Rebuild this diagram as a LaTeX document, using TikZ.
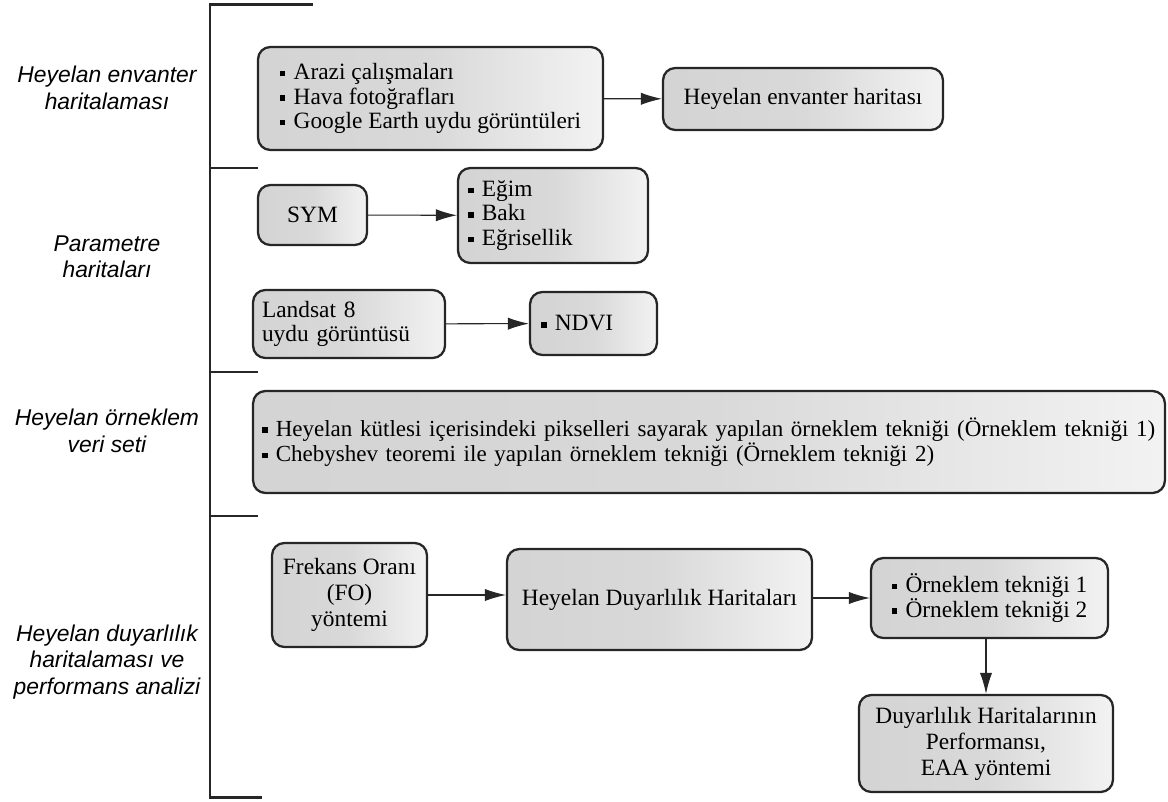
\documentclass[tikz,border=0pt]{standalone}
\usepackage{fontspec}
\setmainfont{Liberation Serif}
\newfontfamily\sidefont{Liberation Sans}
\usetikzlibrary{arrows.meta}

\newcommand{\blt}{\raisebox{0.3ex}{\rule{3.2pt}{3.2pt}}\hspace{0.35em}}

\begin{document}
\begin{tikzpicture}
	\tikzstyle{flowbox} = [draw=black!85, line width=1.3pt, rounded corners=7pt, left color=black!17, right color=black!5, middle color=black!15, font=\fontsize{13.3}{14}\selectfont, inner sep=0pt, align=center]
	\tikzstyle{listbox} = [flowbox, align=left, inner ysep=0pt]
	\tikzstyle{sidelabel} = [font=\sidefont\itshape\fontsize{13}{15}\selectfont, align=center]
	\tikzstyle{flowedge} = [-{Latex[length=12pt,width=7pt]}, line width=0.6pt, black!85]
	\tikzstyle{bracket} = [line width=1.7pt, black!85]

	\def\incx{0.02}
	\def\incy{-0.02}

	\useasboundingbox (0,0) rectangle (1168*\incx,802*\incy);

	% BRACKET %
	\coordinate (b0) at (210*\incx,5*\incy);
	\coordinate (b1) at (210*\incx,168*\incy);
	\coordinate (b2) at (210*\incx,372*\incy);
	\coordinate (b3) at (210*\incx,516*\incy);
	\coordinate (b4) at (210*\incx,797*\incy);
	\draw[bracket] (313*\incx,5*\incy) -- (b0) -- (b4) -- (262*\incx,797*\incy);
	\draw[bracket] (b1) -- ++(48*\incx,0);
	\draw[bracket] (b2) -- ++(48*\incx,0);
	\draw[bracket] (b3) -- ++(48*\incx,0);

	% LABELS %
	\node[sidelabel] (lenv) at (107*\incx,88*\incy) {Heyelan envanter\\haritalaması};
	\node[sidelabel] (lpar) at (107*\incx,257*\incy) {Parametre\\haritaları};
	\node[sidelabel] (lorn) at (107*\incx,431*\incy) {Heyelan örneklem\\veri seti};
	\node[sidelabel] (lduy) at (107*\incx,662*\incy) {Heyelan duyarlılık\\haritalaması ve\\performans analizi};

	% NODES %
	\node[listbox, minimum width=6.9cm, minimum height=2.06cm] (arazi) at (430.5*\incx,98.5*\incy) {\blt Arazi çalışmaları\\\blt Hava fotoğrafları\\\blt Google Earth uydu görüntüleri};
	\node[flowbox, minimum width=5.6cm, minimum height=1.24cm] (envanter) at (803*\incx,99*\incy) {Heyelan envanter haritası};

	\node[flowbox, minimum width=2.18cm, minimum height=1.2cm] (sym) at (312.5*\incx,215*\incy) {SYM};
	\node[listbox, minimum width=3.8cm, minimum height=1.9cm, inner xsep=0.2cm, text width=3.4cm] (egim) at (553*\incx,215.5*\incy) {\blt Eğim\\\blt Bakı\\\blt Eğrisellik};
	\node[listbox, minimum width=3.84cm, minimum height=1.36cm, inner xsep=0.18cm, text width=3.48cm] (landsat) at (349*\incx,324*\incy) {Landsat 8\\uydu görüntüsü};
	\node[listbox, minimum width=2.54cm, minimum height=1.26cm, inner xsep=0.22cm, text width=2.1cm] (ndvi) at (593.5*\incx,323.5*\incy) {\blt NDVI};

	\node[listbox, minimum width=18.24cm, minimum height=2.04cm, inner xsep=0.18cm, text width=17.88cm, font=\fontsize{13.1}{14.5}\selectfont] (ornek) at (709*\incx,442*\incy) {\blt Heyelan kütlesi içerisindeki pikselleri sayarak yapılan örneklem tekniği (Örneklem tekniği 1)\\\blt Chebyshev teoremi ile yapılan örneklem tekniği (Örneklem tekniği 2)};

	\node[flowbox, minimum width=3.1cm, minimum height=2.08cm, font=\fontsize{13.3}{14.8}\selectfont] (fo) at (349.5*\incx,595*\incy) {Frekans Oranı\\(FO)\\yöntemi};
	\node[flowbox, minimum width=6.1cm, minimum height=2.02cm] (hdh) at (659.5*\incx,599.5*\incy) {Heyelan Duyarlılık Haritaları};
	\node[listbox, minimum width=4.74cm, minimum height=1.6cm] (teknik) at (989.5*\incx,598*\incy) {\blt Örneklem tekniği 1\\\blt Örneklem tekniği 2};
	\node[flowbox, minimum width=5.08cm, minimum height=1.94cm, font=\fontsize{13.3}{14.8}\selectfont] (dhp) at (986*\incx,743.5*\incy) {Duyarlılık Haritalarının\\Performansı,\\EAA yöntemi};

	% EDGES %
	\draw[flowedge] (arazi) -- (envanter);
	\draw[flowedge] (sym) -- (egim);
	\draw[flowedge] (landsat) -- (ndvi);
	\draw[flowedge] (fo.east) -- (fo.east -| hdh.west);
	\draw[flowedge] (hdh.east |- teknik.west) -- (teknik.west);
	\draw[flowedge] (teknik.south -| dhp.north) -- (dhp.north);
\end{tikzpicture}
\end{document}
